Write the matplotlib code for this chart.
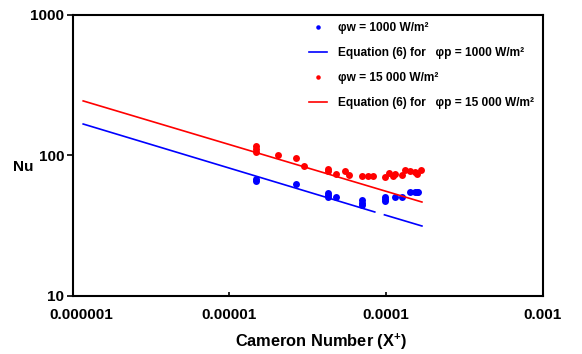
import matplotlib
matplotlib.use("Agg")
import matplotlib.pyplot as plt
import matplotlib.transforms as mtransforms

plt.rcParams['font.family'] = ['Liberation Sans', 'DejaVu Sans']
plt.rcParams['font.weight'] = 'bold'
plt.rcParams['axes.labelweight'] = 'bold'
plt.rcParams['mathtext.fontset'] = 'custom'
plt.rcParams['mathtext.rm'] = 'Liberation Sans:bold'
plt.rcParams['mathtext.bf'] = 'Liberation Sans:bold'
plt.rcParams['mathtext.it'] = 'Liberation Sans:bold'

# Measured Nusselt numbers, wall heat flux 1000 W/m2
x_1000 = [1.48e-5, 1.48e-5, 2.68e-5, 4.26e-5, 4.26e-5, 4.26e-5, 4.82e-5,
          7.06e-5, 7.06e-5, 7.06e-5, 9.86e-5, 9.86e-5, 9.86e-5, 1.14e-4,
          1.27e-4, 1.43e-4, 1.54e-4, 1.59e-4, 1.61e-4]
nu_1000 = [68, 66, 62, 54, 52, 50, 50,
           48, 46, 44, 50.6, 48.7, 47, 50.6,
           50.6, 54.4, 54.4, 54.4, 54.6]

# Measured Nusselt numbers, wall heat flux 15 000 W/m2
x_15000 = [1.48e-5, 1.48e-5, 1.48e-5, 2.04e-5, 2.68e-5, 3.01e-5, 4.26e-5,
           4.26e-5, 4.82e-5, 5.46e-5, 5.79e-5, 7.06e-5, 7.66e-5, 8.28e-5,
           9.86e-5, 1.05e-4, 1.11e-4, 1.14e-4, 1.27e-4, 1.32e-4, 1.43e-4,
           1.54e-4, 1.59e-4, 1.67e-4]
nu_15000 = [117, 111, 105, 101, 95, 84, 80,
            77, 73, 77, 72, 71, 71, 71,
            70, 75, 71, 74, 72.5, 78, 77,
            76.5, 74, 79]

# Equation (6) predictions (two pieces for 1000 W/m2)
eq_x_1000_a = [1.17e-6, 8.5e-5]
eq_nu_1000_a = [167, 39.4]
eq_x_1000_b = [9.8e-5, 1.70e-4]
eq_nu_1000_b = [37.6, 31.3]
eq_x_15000 = [1.17e-6, 1.70e-4]
eq_nu_15000 = [244, 46.4]

x_ticks = [1e-6, 1e-5, 1e-4, 1e-3]
x_tick_labels = ['0.000001', '0.00001', '0.0001', '0.001']
y_ticks = [10, 100, 1000]
y_tick_labels = ['10', '100', '1000']

fig = plt.figure(figsize=(5.82, 3.54), dpi=100)
ax = fig.add_axes([72.5 / 582, 1 - 295.5 / 354, 470 / 582, 280.5 / 354])

pts_b, = ax.plot(x_1000, nu_1000, 'o', color='#0000ff', ms=5, mec='none',
                 label='φw = 1000 W/m²')
line_b, = ax.plot(eq_x_1000_a, eq_nu_1000_a, '-', color='#0000ff', lw=1.2,
                  label='Equation (6) for   φp = 1000 W/m²')
ax.plot(eq_x_1000_b, eq_nu_1000_b, '-', color='#0000ff', lw=1.2)
pts_r, = ax.plot(x_15000, nu_15000, 'o', color='#ff0000', ms=5, mec='none',
                 label='φw = 15 000 W/m²')
line_r, = ax.plot(eq_x_15000, eq_nu_15000, '-', color='#ff0000', lw=1.2,
                  label='Equation (6) for   φp = 15 000 W/m²')

ax.set_xscale('log')
ax.set_yscale('log')
ax.set_xlim(1e-6, 1e-3)
ax.set_ylim(10, 1000)

ax.set_xticks(x_ticks)
ax.set_xticklabels(x_tick_labels)
ax.set_yticks(y_ticks)
ax.set_yticklabels(y_tick_labels)
ax.xaxis.set_minor_locator(matplotlib.ticker.NullLocator())
ax.yaxis.set_minor_locator(matplotlib.ticker.NullLocator())
ax.tick_params(axis='x', direction='in', length=3, width=1.2, pad=9,
               labelsize=11)
ax.tick_params(axis='y', direction='out', length=4, width=1.2, pad=2,
               labelsize=11)
for s in ax.spines.values():
    s.set_linewidth(1.5)

# nudge the leftmost x label inward
first = ax.get_xticklabels()[0]
first.set_transform(first.get_transform() +
                    mtransforms.ScaledTranslation(9 / 100, 0, fig.dpi_scale_trans))

ax.set_xlabel('Cameron Number (X$^{+}$)', fontsize=11.8, fontweight='bold')
ax.xaxis.set_label_coords((321 - 72.5) / 470, -(342 - 295.5) / 280.5)
ax.xaxis.label.set_va('center')
fig.text(23 / 582, 1 - 167 / 354, 'Nu', fontsize=11, ha='center',
         va='center')

ax.legend(handles=[pts_b, line_b, pts_r, line_r], loc='upper left',
          bbox_to_anchor=(309 / 582, 1 - 22 / 354),
          bbox_transform=fig.transFigure, frameon=False, fontsize=8.6,
          borderpad=0, borderaxespad=0, handlelength=1.5,
          handletextpad=0.95, labelspacing=1.08, markerscale=0.65)

fig.savefig('out.png', dpi=100)
